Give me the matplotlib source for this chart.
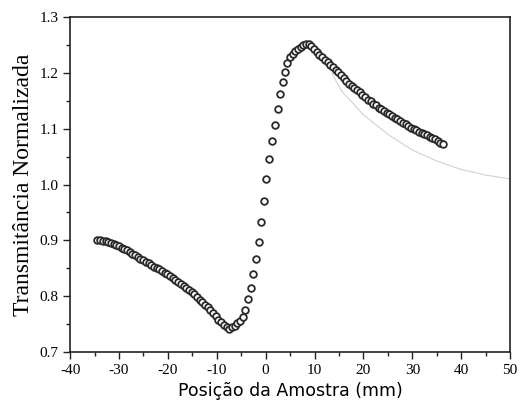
import matplotlib.pyplot as plt

# posicao da amostra (mm) e transmitancia normalizada
pos = [-34.4, -33.85, -33.3, -32.75, -32.2, -31.65, -31.1, -30.55, -30.0, -29.45,
       -28.9, -28.35, -27.8, -27.25, -26.7, -26.15, -25.6, -25.05, -24.5, -23.95,
       -23.4, -22.85, -22.3, -21.75, -21.2, -20.65, -20.1, -19.55, -19.0, -18.45,
       -17.9, -17.35, -16.8, -16.25, -15.7, -15.15, -14.6, -14.05, -13.5, -12.95,
       -12.4, -11.85, -11.3, -10.75, -10.2, -9.65, -9.1, -8.55, -8.0, -7.45,
       -6.9, -6.35, -5.8, -5.25, -4.7, -4.15, -3.6, -3.05, -2.55, -2.05,
       -1.45, -0.9, -0.35, 0.15, 0.75, 1.3, 1.85, 2.45, 3.0, 3.5,
       3.95, 4.4, 4.95, 5.5, 6.05, 6.6, 7.15, 7.7, 8.25, 8.8,
       9.35, 9.9, 10.45, 11.0, 11.55, 12.1, 12.65, 13.2, 13.75, 14.3,
       14.85, 15.4, 15.95, 16.5, 17.05, 17.6, 18.15, 18.7, 19.25, 19.8,
       20.35, 20.9, 21.45, 22.0, 22.55, 23.1, 23.65, 24.2, 24.75, 25.3,
       25.85, 26.4, 26.95, 27.5, 28.05, 28.6, 29.15, 29.7, 30.25, 30.8,
       31.35, 31.9, 32.45, 33.0, 33.55, 34.1, 34.65, 35.2, 35.75, 36.3]
trans = [0.901, 0.900, 0.899, 0.898, 0.897, 0.895, 0.894, 0.891, 0.889, 0.887,
         0.885, 0.882, 0.879, 0.876, 0.873, 0.870, 0.867, 0.864, 0.861, 0.859,
         0.856, 0.853, 0.851, 0.848, 0.845, 0.842, 0.839, 0.836, 0.832, 0.829,
         0.826, 0.822, 0.818, 0.815, 0.811, 0.807, 0.803, 0.799, 0.794, 0.789,
         0.785, 0.780, 0.775, 0.769, 0.764, 0.758, 0.753, 0.748, 0.744, 0.742,
         0.744, 0.747, 0.751, 0.756, 0.762, 0.776, 0.795, 0.814, 0.840, 0.866,
         0.897, 0.933, 0.971, 1.010, 1.046, 1.078, 1.106, 1.136, 1.162, 1.184,
         1.201, 1.218, 1.228, 1.234, 1.239, 1.243, 1.247, 1.250, 1.252, 1.251,
         1.248, 1.243, 1.238, 1.233, 1.228, 1.223, 1.219, 1.215, 1.211, 1.206,
         1.201, 1.196, 1.191, 1.186, 1.181, 1.177, 1.173, 1.169, 1.165, 1.160,
         1.156, 1.152, 1.149, 1.145, 1.142, 1.138, 1.135, 1.132, 1.129, 1.126,
         1.123, 1.120, 1.117, 1.114, 1.111, 1.108, 1.105, 1.102, 1.100, 1.097,
         1.095, 1.092, 1.090, 1.088, 1.086, 1.084, 1.081, 1.078, 1.075, 1.073]

# curva de ajuste (quase apagada no original)
fit_x = [13.5, 15.5, 20, 25, 30, 35, 40, 45, 50]
fit_y = [1.200, 1.168, 1.125, 1.090, 1.062, 1.042, 1.027, 1.017, 1.010]

plt.rcParams['font.family'] = ['Liberation Serif', 'DejaVu Serif']
plt.rcParams['axes.unicode_minus'] = False

fig = plt.figure(figsize=(5.27, 4.18), dpi=100)
ax = fig.add_axes([0.133, 0.158, 0.835, 0.801])

ax.plot(fit_x, fit_y, color="#b4b4b4", lw=0.8, alpha=0.6)
ax.plot(pos, trans, "o", ms=4.8, mfc="white", mec="#2a2a2a", mew=1.3)

ax.set_xlim(-40, 50)
ax.set_ylim(0.7, 1.3)
ax.set_xticks(range(-40, 51, 10))
ax.set_xticks(range(-35, 50, 10), minor=True)
ax.set_yticks([0.7, 0.8, 0.9, 1.0, 1.1, 1.2, 1.3])
ax.set_yticks([0.75, 0.85, 0.95, 1.05, 1.15, 1.25], minor=True)
ax.set_yticklabels(["0.7", "0.8", "0.9", "1.0", "1.1", "1.2", "1.3"])
ax.tick_params(which="major", length=5, width=1, labelsize=11, color="#222222")
ax.tick_params(which="minor", length=3, width=1, color="#222222")
for s in ax.spines.values():
    s.set_linewidth(1.2)
    s.set_color("#222222")

ax.set_ylabel("Transmitância Normalizada", fontsize=17, labelpad=4)
ax.set_xlabel("Posição da Amostra (mm)", fontsize=12.5, family=["DejaVu Sans"])

fig.savefig("out.png", dpi=100)
